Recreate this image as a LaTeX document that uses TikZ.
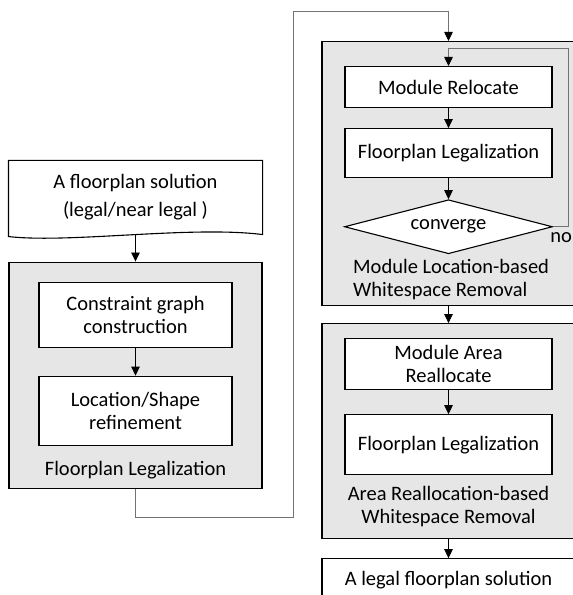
\documentclass[tikz,border=0pt]{standalone}
\usepackage{fontspec}
\setmainfont{Carlito}
\usetikzlibrary{arrows.meta, positioning, shapes.geometric}
\definecolor{panelgray}{HTML}{E6E6E6}
\begin{document}
\begin{tikzpicture}[x=1pt, y=1pt,
  every node/.style={font=\fontsize{20.5}{23}\selectfont},
  procbox/.style={draw=black, line width=1.1pt, fill=white, minimum width=207pt, align=center, inner sep=0pt},
  panel/.style={draw=black, line width=1.1pt, fill=panelgray, minimum width=253pt, inner sep=0pt},
  grouplabel/.style={inner sep=0pt, align=center},
  arrowline/.style={line width=0.8pt, -{Triangle[length=9pt, width=8.5pt, color=black]}},
  loopline/.style={arrowline, draw=black!55}]
  \useasboundingbox (0,0) rectangle (573,595);

  \node[procbox, draw=none, fill=none, minimum width=253pt, minimum height=73pt, font=\fontsize{20.5}{28}\selectfont] (docsol) at (135.5,397.5) {A floorplan solution\\(legal/near legal )};
  \draw[line width=1.1pt] (docsol.north west) -- (docsol.north east) -- (docsol.south east)
    .. controls ([xshift=-72pt, yshift=9pt]docsol.south east) and ([xshift=61pt, yshift=-9pt]docsol.south west) .. ([yshift=-2pt]docsol.south west) -- cycle;

  \node[panel, minimum height=226pt, below=27pt of docsol] (flowleg) {};
  \node[procbox, minimum width=193pt, minimum height=65pt, below=20pt of flowleg.north] (cgraph) {Constraint graph\\construction};
  \node[procbox, minimum width=193pt, minimum height=69pt, below=28pt of cgraph] (locref) {Location/Shape\\refinement};
  \node[grouplabel, above=9pt of flowleg.south] (flowlegtext) {Floorplan Legalization};

  \coordinate (rtop) at (448.5,554);
  \node[panel, minimum height=264pt, below=0pt of rtop] (mlwr) {};
  \node[procbox, minimum height=41pt, below=25pt of rtop] (reloc) {Module Relocate};
  \node[procbox, minimum height=49pt, below=20pt of reloc] (fplega) {Floorplan Legalization};
  \node[diamond, draw=black, line width=1.1pt, fill=white, aspect=3.85, minimum width=208pt, minimum height=54pt, inner sep=0pt, below=21pt of fplega] (conv) {converge};
  \node[grouplabel, align=left, anchor=north west] (mlwrtext) at ([xshift=-95.5pt, yshift=-5pt]conv.south) {Module Location-based\\Whitespace Removal};
  \node[inner sep=0pt, below right=6pt and -3pt of conv.east] (nolabel) {no};

  \node[panel, minimum height=215pt, below=17pt of mlwr] (arwr) {};
  \node[procbox, minimum height=51pt, below=15pt of arwr.north] (marea) {Module Area\\Reallocate};
  \node[procbox, minimum height=60pt, below=24pt of marea] (fplegb) {Floorplan Legalization};
  \node[grouplabel, below=11pt of fplegb] (arwrtext) {Area Reallocation-based\\Whitespace Removal};
  \node[procbox, minimum width=253pt, minimum height=42pt, below=19pt of arwr] (legalsol) {A legal floorplan solution};

  \draw[arrowline] (docsol.south) -- (flowleg.north);
  \draw[arrowline] (cgraph) -- (locref);
  \draw[arrowline] (reloc) -- (fplega);
  \draw[arrowline] (fplega) -- (conv);
  \draw[arrowline] (mlwr) -- (arwr);
  \draw[arrowline] (marea) -- (fplegb);
  \draw[arrowline] (arwr) -- (legalsol);

  \coordinate (bendlow) at (293,78);
  \coordinate (bendtop) at (293,584);
  \draw[loopline] (flowleg.south) |- (bendlow) -- (bendtop) -| (mlwr.north);
  \draw[loopline] (conv.east) -- ++(15pt,0) |- ([yshift=18pt]reloc.north) -- (reloc.north);
\end{tikzpicture}
\end{document}
